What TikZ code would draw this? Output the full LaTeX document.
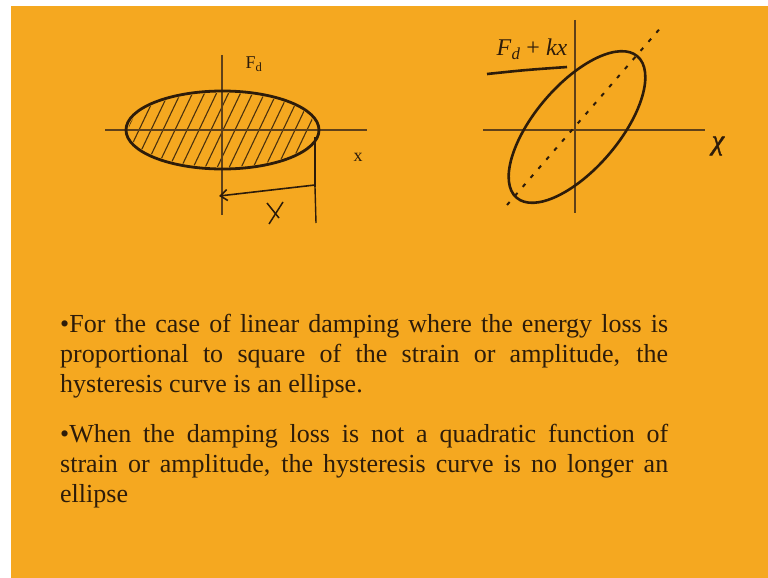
\documentclass[tikz,border=0pt]{standalone}
\usepackage{fontspec}
\setmainfont{Liberation Serif}
\newfontfamily\chifont[FakeBold=1.5]{Liberation Serif}
\usetikzlibrary{arrows.meta}
\definecolor{bg}{RGB}{245,168,32}
\definecolor{ink}{RGB}{45,28,10}
\definecolor{axisc}{RGB}{95,65,25}
\begin{document}
\begin{tikzpicture}[x=1pt,y=-1pt,
  axis/.style={draw=axisc, line width=1.1pt},
  curve/.style={draw=ink, line width=2.6pt},
  hatch/.style={draw=ink!85!bg, line width=1.1pt},
  txt/.style={anchor=base west, inner sep=0pt, text=ink, font=\fontsize{26}{30}\selectfont},
  lbl/.style={inner sep=0pt, text=ink}]
\useasboundingbox (0,0) rectangle (768,578);
\fill[white] (0,0) rectangle (768,578);
\fill[bg] (11,6) rectangle (768,578);

% ---------- left diagram ----------
\coordinate (LxA) at (105,130);
\coordinate (LxB) at (367,130);
\coordinate (LyA) at (222,55);
\coordinate (LyB) at (222,215);
\coordinate (Lc) at (222.5,130);
\begin{scope}
  \clip (Lc) ellipse [x radius=94, y radius=37];
  \foreach \i in {0,...,19} \draw[hatch] (95+\i*12,172) -- (135+\i*12,88);
\end{scope}
\draw[axis] (LxA) -- (LxB);
\draw[axis] (LyA) -- (LyB);
\draw[curve, line width=2.8pt] (Lc) ellipse [x radius=96.5, y radius=39];
\coordinate (vT) at (315,137);
\coordinate (vM) at (315,187);
\coordinate (vB) at (316,223);
\draw[ink, line width=2.6pt] (vT) -- (vM);
\draw[ink, line width=1.4pt] (vM) -- (vB);
\coordinate (arrR) at (315,185);
\coordinate (arrL) at (219,196);
\draw[ink, line width=1.6pt, -{Straight Barb[length=7pt,width=11pt]}] (arrR) -- (arrL);
\coordinate (Xa) at (267,203);
\coordinate (Xb) at (279,218);
\coordinate (Xc) at (283,202);
\coordinate (Xd) at (269,224);
\draw[ink, line width=1.5pt] (Xa) -- (Xb);
\draw[ink, line width=1.5pt] (Xc) -- (Xd);
\node[lbl, font=\fontsize{18}{18}\selectfont] (fdL) at (254,64) {F\textsubscript{d}};
\node[lbl, font=\fontsize{18}{18}\selectfont] (xL) at (358,157) {x};

% ---------- right diagram ----------
\coordinate (RxA) at (483,130);
\coordinate (RxB) at (705,130);
\coordinate (RyA) at (575,20);
\coordinate (RyB) at (575,213);
\coordinate (Rc) at (577,127);
\draw[axis] (RxA) -- (RxB);
\draw[axis] (RyA) -- (RyB);
\coordinate (dotA) at (507,205);
\coordinate (dotB) at (663,25);
\draw[ink, line width=2pt, dash pattern=on 4pt off 8pt] (dotA) -- (dotB);
\draw[curve, rotate around={49.5:(Rc)}] (Rc) ellipse [x radius=93, y radius=42];
\node[lbl, font=\fontsize{24}{24}\selectfont] (fdkx) at (532,49) {\textit{F}\textsubscript{\textit{d}} + \textit{kx}};
\coordinate (ulA) at (487,74);
\coordinate (ulB) at (567,67);
\draw[curve] (ulA) .. controls (525,70) .. (ulB);
\node[lbl, font=\chifont\itshape\fontsize{28}{28}\selectfont] (chi) at (718,146) {χ};

% ---------- text ----------
\node[txt] (t1) at (60,332) {\makebox[608pt][s]{•For the case of linear damping where the energy loss is}};
\node[txt] (t2) at (60,362) {\makebox[608pt][s]{proportional to square of the strain or amplitude, the}};
\node[txt] (t3) at (60,392) {hysteresis curve is an ellipse.};
\node[txt] (t4) at (60,442) {\makebox[608pt][s]{•When the damping loss is not a quadratic function of}};
\node[txt] (t5) at (60,472) {\makebox[608pt][s]{strain or amplitude, the hysteresis curve is no longer an}};
\node[txt] (t6) at (60,502) {ellipse};
\end{tikzpicture}
\end{document}
